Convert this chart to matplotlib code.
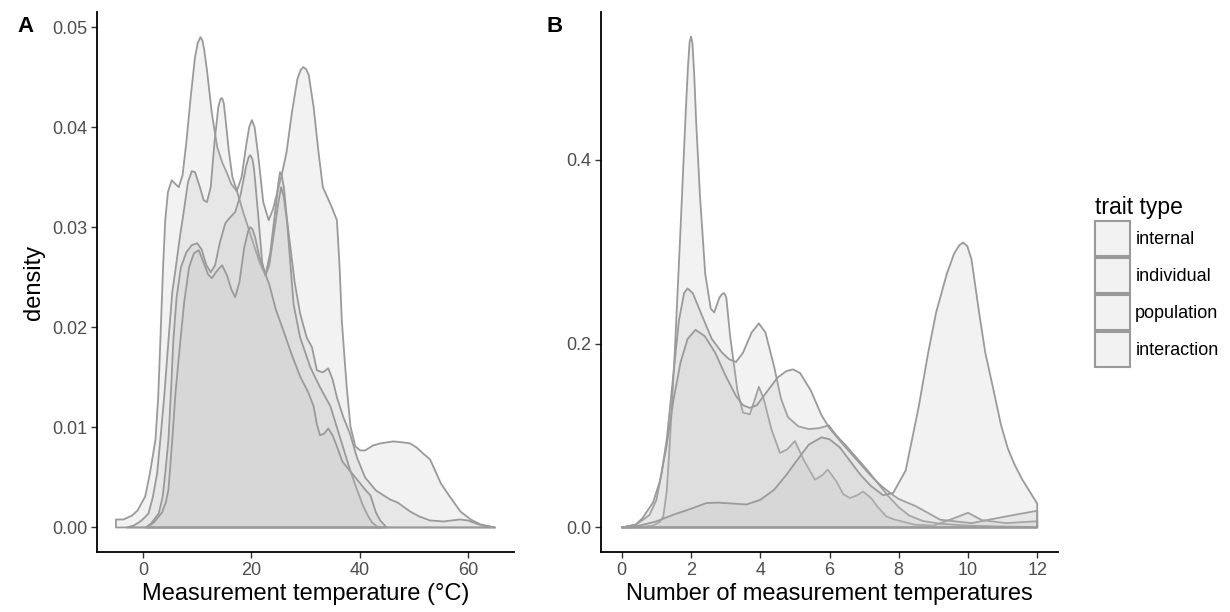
import numpy as np
import matplotlib.pyplot as plt
from matplotlib.patches import Patch

plt.rcParams['font.family'] = ['Liberation Sans', 'DejaVu Sans']

a_internal_x = [-5, -3.6, -2, -1, 0.4, 1.2, 1.7, 2.3, 2.8, 3.2, 3.7, 4.1, 4.6, 5.3, 6.0, 6.6, 7.3,
                8.0, 8.8, 9.6, 10.1, 10.6, 11.0, 11.3, 11.8, 12.7, 13.7, 14.6, 15.5, 16.3, 17.3,
                18.2, 19.0, 19.6, 20.1, 20.6, 21.3, 22.2, 23.2, 24.0, 24.8, 25.6, 26.5, 27.5,
                28.5, 29.1, 29.6, 30.1, 30.6, 31.5, 32.4, 33.2, 34.2, 35.0, 35.8, 36.3, 36.7,
                37.2, 37.6, 38.3, 39.2, 40.1, 41.0, 42.5, 43.8, 46.2, 48.0, 49.3, 50.5, 51.7,
                53.0, 55.0, 56.5, 58.6, 60.5, 62.3, 64.0, 65.0]
a_internal_y = [0.0008, 0.0008, 0.0012, 0.0017, 0.0031, 0.0052, 0.0068, 0.0088, 0.0130, 0.0187,
                0.0260, 0.0307, 0.0335, 0.0347, 0.0343, 0.0340, 0.0352, 0.0385, 0.0430, 0.0470,
                0.0484, 0.0490, 0.0486, 0.0477, 0.0457, 0.0414, 0.0380, 0.0365, 0.0354, 0.0343,
                0.0336, 0.0350, 0.0380, 0.0400, 0.0407, 0.0400, 0.0370, 0.0325, 0.0307, 0.0318,
                0.0335, 0.0352, 0.0375, 0.0415, 0.0448, 0.0457, 0.0460, 0.0458, 0.0452, 0.0420,
                0.0375, 0.0340, 0.0328, 0.0318, 0.0307, 0.0260, 0.0207, 0.0170, 0.0141, 0.0101,
                0.0081, 0.0077, 0.0077, 0.0082, 0.0084, 0.0086, 0.0085, 0.0084, 0.0080, 0.0074,
                0.0068, 0.0044, 0.0032, 0.0016, 0.0008, 0.0003, 0.0001, 0.0000]

a_individual_x = [-3, -1.7, -0.5, 0.5, 1.0, 1.8, 2.6, 3.2, 3.9, 4.7, 5.4, 6.0, 6.8, 7.5, 8.3, 9.0,
                  9.6, 10.5, 11.2, 11.8, 12.5, 13.2, 13.9, 14.3, 14.6, 14.9, 15.2, 15.8, 16.5,
                  17.3, 18.5, 20.0, 21.5, 22.6, 23.5, 24.5, 25.0, 25.3, 25.6, 26.0, 26.6, 28.0,
                  29.0, 30.2, 31.2, 32.1, 33.2, 34.2, 35.0, 35.8, 37.0, 38.2, 39.5, 41.0, 43.0,
                  45.6, 47.0, 49.3, 51.0, 53.0, 55.5, 57.0, 58.5, 60.0, 62.0, 65.0]
a_individual_y = [0.0, 0.0002, 0.0006, 0.0011, 0.0014, 0.0030, 0.0054, 0.0088, 0.0130, 0.0187,
                  0.0235, 0.0258, 0.0290, 0.0315, 0.0345, 0.0356, 0.0355, 0.0340, 0.0327, 0.0325,
                  0.0340, 0.0385, 0.0420, 0.0428, 0.0429, 0.0424, 0.0410, 0.0378, 0.0350, 0.0337,
                  0.0315, 0.0290, 0.0265, 0.0252, 0.0275, 0.0320, 0.0345, 0.0355, 0.0352, 0.0340,
                  0.0307, 0.0245, 0.0214, 0.0190, 0.0180, 0.0157, 0.0155, 0.0159, 0.0148, 0.0130,
                  0.0110, 0.0094, 0.0070, 0.0050, 0.0037, 0.0028, 0.0025, 0.0016, 0.0011, 0.0007,
                  0.0006, 0.0007, 0.0008, 0.0007, 0.0003, 0.0]

a_population_x = [0.5, 1.5, 2.9, 3.6, 4.1, 4.7, 5.2, 5.6, 6.2, 7.0, 8.0, 9.0, 10.0, 10.8, 11.7,
                  12.5, 13.3, 14.2, 15.2, 16.1, 17.0, 18.0, 19.0, 19.5, 19.8, 20.2, 20.5, 21.3,
                  22.0, 22.6, 23.3, 24.2, 25.0, 25.5, 26.0, 26.6, 27.8, 29.0, 30.9, 32.5, 34.6,
                  35.8, 37.0, 38.2, 39.5, 40.6, 41.5, 42.3, 43.2, 44.0]
a_population_y = [0.0, 0.0004, 0.0014, 0.0030, 0.0054, 0.0088, 0.0140, 0.0187, 0.0230, 0.0260,
                  0.0275, 0.0282, 0.0284, 0.0278, 0.0262, 0.0255, 0.0262, 0.0285, 0.0304, 0.0310,
                  0.0315, 0.0332, 0.0360, 0.0370, 0.0372, 0.0368, 0.0358, 0.0310, 0.0265, 0.0252,
                  0.0262, 0.0295, 0.0325, 0.0340, 0.0330, 0.0305, 0.0223, 0.0190, 0.0160, 0.0142,
                  0.0121, 0.0100, 0.0079, 0.0058, 0.0038, 0.0022, 0.0012, 0.0005, 0.0001, 0.0]

a_interaction_x = [0.7, 2.0, 3.5, 4.2, 4.7, 5.4, 6.0, 6.9, 7.6, 8.5, 9.4, 10.3, 11.3, 12.0, 12.7,
                   13.6, 14.6, 15.5, 16.3, 17.0, 17.8, 18.7, 19.4, 19.8, 20.2, 20.7, 21.5, 22.6,
                   23.3, 24.5, 25.9, 27.5, 29.0, 30.5, 31.5, 32.1, 32.7, 33.5, 34.2, 35.0, 35.8,
                   36.8, 38.0, 39.5, 41.0, 42.0, 43.0, 43.8, 45.0]
a_interaction_y = [0.0, 0.0005, 0.0015, 0.0025, 0.0038, 0.0088, 0.0135, 0.0187, 0.0225, 0.0260,
                   0.0274, 0.0277, 0.0263, 0.0253, 0.0249, 0.0256, 0.0262, 0.0252, 0.0238, 0.0230,
                   0.0245, 0.0280, 0.0296, 0.0300, 0.0298, 0.0290, 0.0270, 0.0253, 0.0243, 0.0218,
                   0.0197, 0.0172, 0.0151, 0.0135, 0.0121, 0.0103, 0.0092, 0.0094, 0.0099, 0.0092,
                   0.0081, 0.0066, 0.0058, 0.0048, 0.0038, 0.0032, 0.0015, 0.0007, 0.0]

# ---- panel B: density vs number of measurement temperatures ----
b_internal_x = [0, 0.5, 0.9, 1.1, 1.2, 1.3, 1.4, 1.53, 1.69, 1.84, 1.91, 1.96, 2.0, 2.04, 2.09,
                2.15, 2.26, 2.41, 2.57, 2.67, 2.82, 2.9, 2.96, 3.02, 3.13, 3.34, 3.5, 3.7, 3.85,
                3.96, 4.1, 4.32, 4.57, 4.78, 5.0, 5.26, 5.58, 5.8, 5.95, 6.2, 6.4, 6.59, 6.8,
                6.97, 7.2, 7.4, 7.64, 7.84, 8.46, 9.0, 9.6, 10.0, 10.4, 11.1, 11.9, 12.0]
b_internal_y = [0.0, 0.0005, 0.002, 0.006, 0.012, 0.040, 0.100, 0.190, 0.319, 0.446, 0.500,
                0.528, 0.534, 0.527, 0.495, 0.440, 0.360, 0.276, 0.238, 0.234, 0.250, 0.254,
                0.255, 0.250, 0.208, 0.149, 0.125, 0.123, 0.140, 0.153, 0.140, 0.107, 0.081,
                0.085, 0.094, 0.073, 0.052, 0.057, 0.063, 0.050, 0.036, 0.032, 0.035, 0.039,
                0.032, 0.022, 0.012, 0.009, 0.003, 0.002, 0.010, 0.016, 0.008, 0.0047, 0.0066,
                0.0066]

b_individual_x = [0, 0.4, 0.6, 0.8, 1.0, 1.15, 1.3, 1.5, 1.65, 1.8, 1.9, 2.05, 2.3, 2.6, 2.9, 3.1,
                  3.3, 3.5, 3.75, 3.96, 4.15, 4.4, 4.6, 4.8, 5.1, 5.4, 5.7, 5.98, 6.2, 6.5, 6.8,
                  7.1, 7.4, 7.7, 8.0, 8.3, 8.7, 9.2, 10.0, 11.0, 12.0]
b_individual_y = [0.0, 0.003, 0.008, 0.0136, 0.030, 0.059, 0.096, 0.170, 0.225, 0.255, 0.260,
                  0.255, 0.232, 0.205, 0.190, 0.183, 0.180, 0.190, 0.212, 0.222, 0.212, 0.175,
                  0.140, 0.120, 0.110, 0.107, 0.108, 0.111, 0.100, 0.088, 0.075, 0.062, 0.048,
                  0.034, 0.022, 0.013, 0.007, 0.004, 0.002, 0.001, 0.0005]

b_population_x = [0, 0.4, 0.6, 0.9, 1.1, 1.3, 1.5, 1.7, 1.9, 2.13, 2.4, 2.7, 3.0, 3.3, 3.5, 3.7,
                  3.9, 4.2, 4.5, 4.75, 4.94, 5.15, 5.46, 5.77, 6.0, 6.4, 6.8, 7.2, 7.5, 7.84, 8.0,
                  8.5, 9.2, 10.1, 11.1, 11.9, 12.0]
b_population_y = [0.0, 0.003, 0.0102, 0.027, 0.050, 0.090, 0.140, 0.180, 0.205, 0.215, 0.208,
                  0.190, 0.165, 0.143, 0.133, 0.130, 0.133, 0.148, 0.163, 0.170, 0.172, 0.168,
                  0.149, 0.122, 0.108, 0.090, 0.073, 0.056, 0.045, 0.035, 0.031, 0.023, 0.0084,
                  0.0047, 0.012, 0.0175, 0.018]

b_interaction_x = [0, 0.5, 1.0, 1.5, 2.05, 2.45, 2.8, 3.2, 3.6, 4.0, 4.4, 4.75, 5.1, 5.4, 5.77,
                   6.0, 6.3, 6.6, 6.9, 7.2, 7.55, 7.84, 8.2, 8.57, 8.85, 9.08, 9.39, 9.6, 9.75,
                   9.86, 9.98, 10.1, 10.32, 10.5, 10.74, 10.95, 11.15, 11.35, 11.57, 11.8, 12.0]
b_interaction_y = [0.0, 0.002, 0.0066, 0.014, 0.021, 0.0266, 0.027, 0.026, 0.025, 0.030, 0.041,
                   0.057, 0.075, 0.090, 0.098, 0.096, 0.087, 0.072, 0.057, 0.045, 0.035, 0.0375,
                   0.062, 0.130, 0.190, 0.234, 0.276, 0.298, 0.307, 0.310, 0.306, 0.292, 0.234,
                   0.190, 0.149, 0.112, 0.086, 0.068, 0.052, 0.038, 0.026]

TRAIT_TYPES = ["internal", "individual", "population", "interaction"]
A_CURVES = [(a_internal_x, a_internal_y), (a_individual_x, a_individual_y),
            (a_population_x, a_population_y), (a_interaction_x, a_interaction_y)]
B_CURVES = [(b_internal_x, b_internal_y), (b_individual_x, b_individual_y),
            (b_population_x, b_population_y), (b_interaction_x, b_interaction_y)]

FILL = (0.745, 0.745, 0.745, 0.2)
EDGE = "#9a9a9a"
TICK_COL = "#4d4d4d"


def draw_density(ax, x, y):
    # closed polygon down to the baseline, like geom_density
    px = [x[0]] + list(x) + [x[-1]]
    py = [0.0] + list(y) + [0.0]
    ax.fill(px, py, facecolor=FILL, edgecolor=EDGE, linewidth=1.3, joinstyle="round")


def style(ax):
    for s in ("top", "right"):
        ax.spines[s].set_visible(False)
    for s in ("left", "bottom"):
        ax.spines[s].set_linewidth(1.3)
        ax.spines[s].set_color("black")
    ax.tick_params(direction="out", length=4, width=1.0, color="#333333",
                   labelsize=13, labelcolor=TICK_COL, pad=3)


fig = plt.figure(figsize=(12.3, 6.12), dpi=100)
axA = fig.add_axes([97 / 1230, 60 / 612, 417 / 1230, 540 / 612])
axB = fig.add_axes([601 / 1230, 60 / 612, 457 / 1230, 540 / 612])

for x, y in A_CURVES:
    draw_density(axA, x, y)
axA.set_xlim(-8.5, 68.5)
axA.set_ylim(-0.00245, 0.0515)
axA.set_xticks([0, 20, 40, 60])
axA.set_yticks([0.00, 0.01, 0.02, 0.03, 0.04, 0.05])
axA.set_yticklabels(["0.00", "0.01", "0.02", "0.03", "0.04", "0.05"])
axA.set_xlabel("Measurement temperature (°C)", fontsize=17, labelpad=3)
axA.set_ylabel("density", fontsize=17, labelpad=5)
style(axA)

for x, y in B_CURVES:
    draw_density(axB, x, y)
axB.set_xlim(-0.6, 12.6)
axB.set_ylim(-0.0267, 0.5607)
axB.set_xticks(range(0, 13, 2))
axB.set_yticks([0.0, 0.2, 0.4])
axB.set_yticklabels(["0.0", "0.2", "0.4"])
axB.set_xlabel("Number of measurement temperatures", fontsize=17, labelpad=3)
style(axB)

fig.text(17 / 1230, 1 - 27 / 612, "A", fontsize=16, fontweight="bold", va="center", ha="left")
fig.text(547 / 1230, 1 - 27 / 612, "B", fontsize=16, fontweight="bold", va="center", ha="left")

handles = [Patch(facecolor=FILL, edgecolor=EDGE, linewidth=1.5) for _ in TRAIT_TYPES]
fig.legend(handles, TRAIT_TYPES, title="trait type", loc="upper left",
           bbox_to_anchor=(1082 / 1230, 1 - 183 / 612), frameon=False,
           fontsize=13, title_fontsize=16.5, handlelength=1.95, handleheight=2.6,
           labelspacing=0.12, handletextpad=0.3, borderpad=0.2, alignment="left")

fig.savefig("out.png", dpi=100)
